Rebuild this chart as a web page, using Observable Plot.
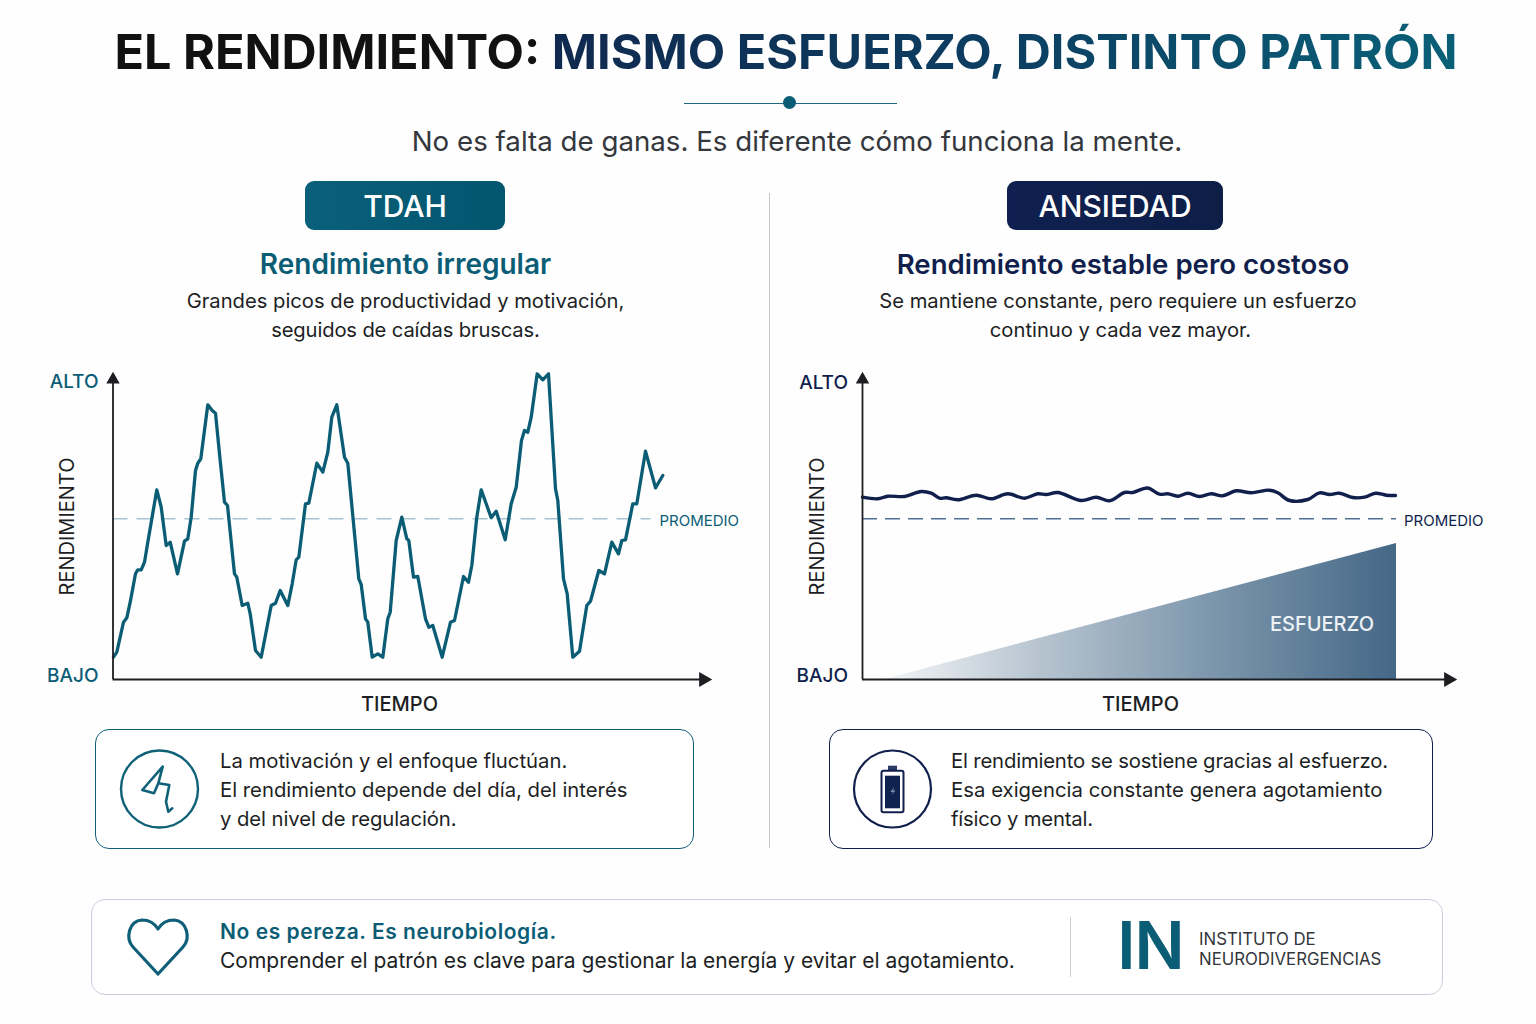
<!DOCTYPE html>
<html lang="es">
<head>
<meta charset="utf-8">
<script src="https://cdn.jsdelivr.net/npm/d3@7"></script>
<script src="https://cdn.jsdelivr.net/npm/@observablehq/plot@0.6"></script>
<style>
html,body{margin:0;padding:0;background:#fefefe;}
body{width:1536px;height:1024px;position:relative;overflow:hidden;font-family:Inter,"Noto Sans",sans-serif;color:#1d1f24;}
.t{position:absolute;white-space:nowrap;line-height:1.2;transform:translateY(-50%);}
.c{transform:translate(-50%,-50%);}
.box{position:absolute;box-sizing:border-box;background:#fff;}
.chart{position:absolute;}
.chart svg{display:block;background:transparent;overflow:visible;}
.grad{background:linear-gradient(90deg,#10294f 0%,#0c3f62 50%,#0a6078 100%);-webkit-background-clip:text;background-clip:text;color:transparent;}
</style>
</head>
<body>
<svg width="0" height="0" style="position:absolute">
  <defs>
    <linearGradient id="esfuerzoGrad" x1="0" x2="1" y1="0" y2="0">
      <stop offset="0" stop-color="#f4f6f8"/>
      <stop offset="0.3" stop-color="#b7c4d0"/>
      <stop offset="0.65" stop-color="#7b95ab"/>
      <stop offset="1" stop-color="#456887"/>
    </linearGradient>
  </defs>
</svg>

<div class="t c" style="left:786px;top:52px;font-size:48.6px;font-weight:700;color:#111"><span>EL RENDIMIENTO: </span><span class="grad">MISMO ESFUERZO, DISTINTO PATRÓN</span></div>
<div class="box" style="left:684px;top:102.5px;width:213px;height:1px;background:#1b6a80"></div>
<div class="box" style="left:783px;top:96px;width:13px;height:13px;border-radius:50%;background:#0b5d76"></div>
<div class="t c" style="left:797px;top:142px;font-size:27.7px;color:#34373c">No es falta de ganas. Es diferente cómo funciona la mente.</div>

<div class="box" style="left:768.500px;top:193px;width:1.2px;height:655px;background:#c4c8cc"></div>

<div class="box" style="left:305px;top:181px;width:200px;height:49px;border-radius:9px;background:linear-gradient(90deg,#0a5f7a,#04566f)"></div>
<div class="t c" style="left:405px;top:206px;font-size:30px;font-weight:500;color:#fff">TDAH</div>
<div class="box" style="left:1007px;top:181px;width:216px;height:49px;border-radius:9px;background:linear-gradient(90deg,#0f2050,#0d1f47)"></div>
<div class="t c" style="left:1115px;top:206px;font-size:30px;font-weight:500;color:#fff">ANSIEDAD</div>

<div class="t c" style="left:405.500px;top:265px;font-size:28px;font-weight:600;color:#0b5d76">Rendimiento irregular</div>
<div class="t c" style="left:1123px;top:265px;font-size:27.6px;font-weight:600;color:#101f4c">Rendimiento estable pero costoso</div>

<div class="t c" style="left:405.500px;top:301px;font-size:20.2px">Grandes picos de productividad y motivación,</div>
<div class="t c" style="left:405.500px;top:330px;font-size:20.2px;letter-spacing:-.14px">seguidos de caídas bruscas.</div>
<div class="t c" style="left:1118px;top:301px;font-size:20.2px">Se mantiene constante, pero requiere un esfuerzo</div>
<div class="t c" style="left:1120.500px;top:330px;font-size:20.2px">continuo y cada vez mayor.</div>

<div class="chart" id="left" style="left:39px;top:360px"></div>
<div class="chart" id="right" style="left:789px;top:360px"></div>

<div class="box" style="left:95px;top:729px;width:599px;height:120px;border:1.3px solid #0f6178;border-radius:14px"></div>
<svg style="position:absolute;left:115px;top:745px" width="90" height="90" viewBox="0 0 90 90" fill="none" stroke="#0f6178" stroke-linecap="round" stroke-linejoin="round">
  <circle cx="44.500" cy="44" r="38.5" stroke-width="2.4"/>
  <path d="M47.700 21.700 L27.300 45 L39 48.300 L43.300 38.300 L47.700 21.700 M43.300 38.300 L54.300 40 L51 56.700 L53.300 66.700 L57.300 63.300" stroke-width="2.6"/>
</svg>
<div class="t" style="left:220px;top:761px;font-size:20.3px">La motivación y el enfoque fluctúan.</div>
<div class="t" style="left:220px;top:790px;font-size:20.3px">El rendimiento depende del día, del interés</div>
<div class="t" style="left:220px;top:819px;font-size:20.3px;letter-spacing:-.08px">y del nivel de regulación.</div>

<div class="box" style="left:829px;top:729px;width:604px;height:120px;border:1.3px solid #101f4c;border-radius:14px"></div>
<svg style="position:absolute;left:848px;top:745px" width="90" height="90" viewBox="0 0 90 90" fill="none">
  <circle cx="44.500" cy="44" r="38.5" stroke="#101f4c" stroke-width="2.2"/>
  <rect x="40" y="20.700" width="9" height="5" fill="#2a3a63"/>
  <rect x="33.500" y="25.700" width="22" height="41.600" rx="2" stroke="#101f4c" stroke-width="2"/>
  <rect x="37" y="30.700" width="15" height="32.600" fill="#10224f"/>
  <path d="M46 42 L42.500 47 L45 47 L43.500 50 L47.500 45.500 L45 45.500 Z" fill="#7e8fae"/>
</svg>
<div class="t" style="left:951px;top:761px;font-size:20.3px;letter-spacing:-.17px">El rendimiento se sostiene gracias al esfuerzo.</div>
<div class="t" style="left:951px;top:790px;font-size:20.3px;letter-spacing:.04px">Esa exigencia constante genera agotamiento</div>
<div class="t" style="left:951px;top:819px;font-size:20.3px;letter-spacing:-.2px">físico y mental.</div>

<div class="box" style="left:91px;top:899px;width:1352px;height:96px;border:1.3px solid #c8cfdc;border-radius:14px"></div>
<svg style="position:absolute;left:122px;top:912px" width="72" height="70" viewBox="0 0 72 70" fill="none" stroke="#0f5f78" stroke-width="3.200" stroke-linejoin="round">
  <path d="M36 62 L11 35 C3 26 7 9 20 8 C28 8 33 12 36 17 C39 12 44 8 52 8 C65 9 69 26 61 35 Z"/>
</svg>
<div class="t" style="left:220px;top:932px;font-size:21px;font-weight:600;letter-spacing:.55px;color:#0b5d76">No es pereza. Es neurobiología.</div>
<div class="t" style="left:220px;top:961px;font-size:21px">Comprender el patrón es clave para gestionar la energía y evitar el agotamiento.</div>
<div class="box" style="left:1069.500px;top:917px;width:1.2px;height:60px;background:#c8cfd6"></div>
<div class="t c" style="left:1150.500px;top:946px;font-size:66px;font-weight:600;letter-spacing:-1px;color:#0b5d76">IN</div>
<div class="t" style="left:1199px;top:939px;font-size:16.8px;color:#33363b">INSTITUTO DE</div>
<div class="t" style="left:1199px;top:959px;font-size:16.8px;color:#33363b">NEURODIVERGENCIAS</div>

<script>
// TDAH: tiempo / rendimiento
const tdahTiempo = [0.5,3.8,10.5,13.8,17.2,22.5,24.8,28.2,31.5,34.8,43.8,48.2,53.2,57.2,64.5,71.5,74.8,78.2,82.5,84.8,87.8,94.8,99.2,102.5,106.5,111.5,114.5,121.5,123.8,129.2,134.8,137.2,142.5,148.2,158.2,162.5,167.2,174.8,179.2,183.2,185.8,192.5,195.8,203.8,209.8,214.8,218.8,223.8,231.5,234.8,245.8,248.2,252.5,254.8,259.2,264.8,269.8,274.8,277.2,283.2,288.8,293.8,295.8,300.5,304.8,312.5,315.8,319.8,329.2,337.5,341.5,350.5,355.5,358.8,363.8,368.2,378.2,383.2,392.2,398.2,403.2,408.5,411.5,414.8,418.2,424.2,429.8,435.5,442.5,444.8,450.5,454.2,459.8,466.5,473.8,477.5,485.8,491.5,498.8,505.5,508.8,512.5,519.8,523.8,532.5,542.5,549.8];
const tdahRendimiento = [22.3,27.3,57.3,61.7,77.3,105.7,109.7,109.7,117.3,137.3,189.7,172.3,134,137.3,105.7,138.3,140.7,162.3,209,216.3,220.7,274.7,269,266.3,225.7,177.3,174,105.7,102.3,74,76.3,65.7,29,22.3,74,76.3,89,74,95.7,119.7,122.3,175.7,176.3,216.3,207.3,227.3,262.3,274.7,222.3,216.3,100.7,95,60.7,57.3,22.3,25.7,22.3,60.7,67.3,139,162.3,140.7,139,102.3,103,60.7,52.3,54,22.3,57.3,59,103,97.3,114,162.3,189.7,161.7,168.3,139.7,175.7,192.3,239,249,247.3,262.3,305.7,299.7,305.7,190.7,179,100.7,85.7,22.3,28.3,74,78.3,109,105.7,137.3,125.7,139,139.7,175.7,175.7,228.3,191.7,204];
// Ansiedad
const ansTiempo = [0,15.3,25.3,42,58.7,68.7,77,83.7,95.3,113.7,128.7,145.3,162,175.3,183.7,195.3,218.7,233.7,247,262,270.3,285,297,305.3,315.3,325.3,337,348.7,360.3,373.7,388.7,407,415.3,427,445.3,457,467,477,490.3,502,513,523.7,533];
const ansRendimiento = [182.3,180.7,183.3,183,188,186.3,181.3,181.7,179.7,184.3,180.7,185.7,181.3,185.7,185,187,179,182.3,178.7,187,187,191.5,185.3,185.7,183.3,186.3,183,185.7,183.7,188.7,186.7,189.3,186.7,179,180,186.7,185,186.3,182,182.3,186.3,184.3,184];
const esfuerzoTiempo = [22,534];
const esfuerzoNivel = [0,136];
const promedio = 160.7;
const TEAL = "#0b5d76", NAVY = "#101f4c";

const serie = (xs, ys) => xs.map((x, i) => ({tiempo: x, rendimiento: ys[i]}));

function ejes(color, xEtiqueta, yTicks) {
  return [
    Plot.axisY(yTicks, {tickSize: 0, tickPadding: 14.5, tickFormat: d => d > 100 ? "ALTO" : "BAJO", fill: color, fontSize: 19, fontWeight: 500, label: null}),
    Plot.text(["RENDIMIENTO"], {x: 0, y: 153, text: d => d, rotate: -90, dx: -45, fill: "#1d1f24", fontSize: 20, fontWeight: 400}),
    Plot.text(["TIEMPO"], {x: xEtiqueta, y: 0, text: d => d, dy: 25, fill: "#1d1f24", fontSize: 20, fontWeight: 500})
  ];
}
function flechas(xMax) {
  return [
    Plot.ruleX([0], {y1: 0, y2: 297, stroke: "#1c1e22", strokeWidth: 1.8}),
    Plot.ruleY([0], {x1: 0, x2: xMax - 10, stroke: "#1c1e22", strokeWidth: 1.8}),
    Plot.dot([{x: 0, y: 300}], {x: "x", y: "y", symbol: "triangle", r: 5, fill: "#1c1e22"}),
    Plot.dot([{x: xMax - 9, y: 0}], {x: "x", y: "y", symbol: "triangle", rotate: 90, r: 5.6, fill: "#1c1e22"})
  ];
}

const izquierda = Plot.plot({
  width: 720, height: 350,
  marginLeft: 73.5, marginRight: 47, marginTop: 13, marginBottom: 31,
  x: {domain: [0, 599.5], axis: null},
  y: {domain: [0, 306], axis: null},
  style: {fontFamily: "Inter, sans-serif", background: "transparent", overflow: "visible"},
  marks: [
    Plot.ruleY([promedio], {x1: 0, x2: 538, stroke: "#a9c4d1", strokeWidth: 1.6, strokeDasharray: "15 9"}),
    Plot.line(serie(tdahTiempo, tdahRendimiento), {x: "tiempo", y: "rendimiento", stroke: TEAL, strokeWidth: 3.3, strokeLinejoin: "round", strokeLinecap: "round"}),
    Plot.text(["PROMEDIO"], {x: 546.5, y: 158.5, text: d => d, textAnchor: "start", fill: TEAL, fontSize: 15, fontWeight: 400}),
    ...ejes(TEAL, 286.5, [297.5, 4]),
    ...flechas(599.5)
  ]
});
document.getElementById("left").append(izquierda);

const derecha = Plot.plot({
  width: 710, height: 350,
  marginLeft: 73, marginRight: 42, marginTop: 13, marginBottom: 31,
  x: {domain: [0, 595], axis: null},
  y: {domain: [0, 306], axis: null},
  style: {fontFamily: "Inter, sans-serif", background: "transparent", overflow: "visible"},
  marks: [
    Plot.areaY(serie(esfuerzoTiempo, esfuerzoNivel), {x: "tiempo", y: "rendimiento", fill: "url(#esfuerzoGrad)"}),
    Plot.ruleY([promedio], {x1: 0, x2: 534, stroke: "#4f7096", strokeWidth: 1.6, strokeDasharray: "15 8"}),
    Plot.line(serie(ansTiempo, ansRendimiento), {x: "tiempo", y: "rendimiento", stroke: NAVY, strokeWidth: 3.4, curve: "catmull-rom", strokeLinecap: "round"}),
    Plot.text(["ESFUERZO"], {x: 459.5, y: 55, text: d => d, fill: "#eef2f6", fontSize: 20, fontWeight: 500}),
    Plot.text(["PROMEDIO"], {x: 541.5, y: 158.5, text: d => d, textAnchor: "start", fill: NAVY, fontSize: 15, fontWeight: 400}),
    ...ejes(NAVY, 278, [297, 4]),
    ...flechas(595)
  ]
});
document.getElementById("right").append(derecha);
</script>
</body>
</html>
